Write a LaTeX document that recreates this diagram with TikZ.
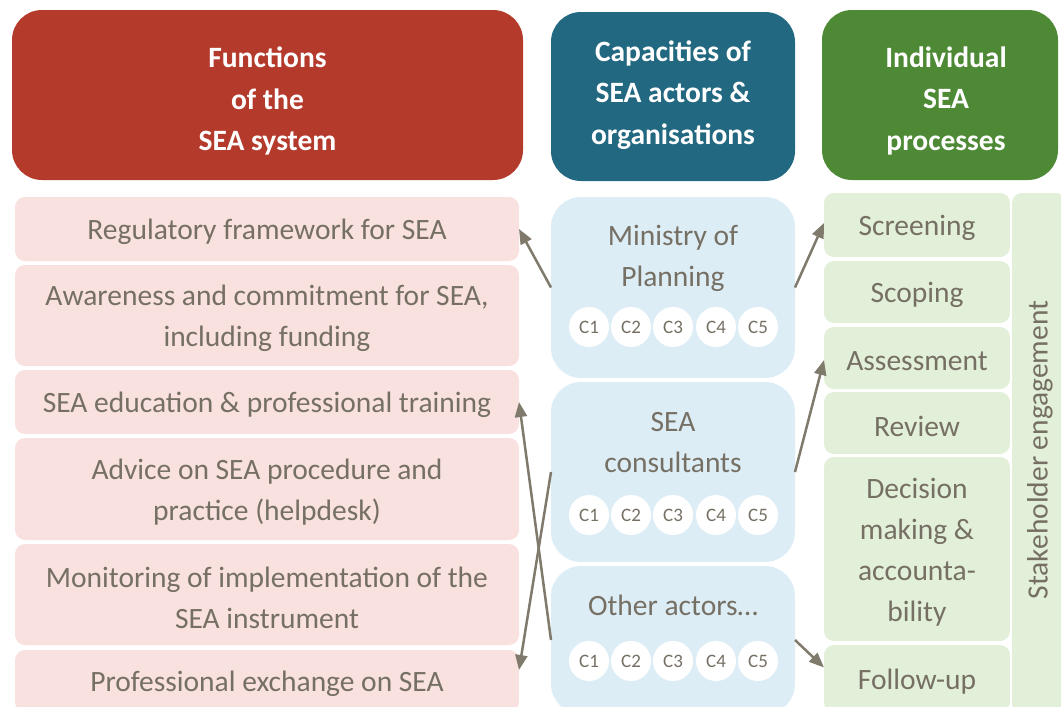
\documentclass[tikz,border=0pt]{standalone}
\usepackage{fontspec}
\setmainfont{Carlito}
\usetikzlibrary{arrows.meta,calc}
\definecolor{hred}{HTML}{B43A2C}
\definecolor{hblue}{HTML}{236881}
\definecolor{hgreen}{HTML}{4E8A35}
\definecolor{lpink}{HTML}{F8E1DF}
\definecolor{lblue}{HTML}{DDEDF6}
\definecolor{lgreen}{HTML}{E2EFD9}
\definecolor{txt}{HTML}{767064}
\definecolor{arr}{HTML}{7F7A6B}
\tikzset{
  header/.style={rounded corners=30pt, inner sep=0pt, outer sep=0pt, text=white, align=center,
    font=\fontsize{29.5}{41.5}\selectfont\bfseries},
  btext/.style={text=txt, align=center, font=\fontsize{29.5}{41}\selectfont, yshift=-3pt, inner sep=0pt},
  fbox/.style={fill=lpink, rounded corners=10pt, inner sep=0pt, outer sep=0pt, minimum width=504pt},
  abox/.style={fill=lblue, rounded corners=30pt, inner sep=0pt, outer sep=0pt, minimum width=244pt},
  pbox/.style={fill=lgreen, rounded corners=10pt, inner sep=0pt, outer sep=0pt, minimum width=186pt},
  atext/.style={text=txt, align=center, font=\fontsize{29.5}{41}\selectfont},
  capcircle/.style={circle, fill=white, minimum size=40pt, inner sep=0pt, text=txt, font=\fontsize{19}{19}\selectfont},
  conn/.style={draw=arr, line width=2.5pt, -{Triangle[length=15pt,width=12pt]}}
}
\begin{document}
\begin{tikzpicture}[x=1pt,y=-1pt]
\useasboundingbox (0,0) rectangle (1061,707);
\clip (0,0) rectangle (1061,707);
% headers
\node[header, fill=hred, minimum width=511pt, minimum height=170pt] (h1) at (267.5,95) {};
\node[header] (h1t) at (267.5,101) {Functions\\of the\\SEA system};
\node[header, fill=hblue, minimum width=244pt, minimum height=169pt] (h2) at (673,96.5) {};
\node[header] (h2t) at (673,95) {Capacities of\\SEA actors \&\\organisations};
\node[header, fill=hgreen, minimum width=236pt, minimum height=170pt] (h3) at (940,95) {};
\node[header] (h3t) at (946,100.5) {Individual\\SEA\\processes};
% functions
\node[fbox, minimum height=64pt, label={[btext]center:{Regulatory framework for SEA}}] (reg) at (267,229) {};
\node[fbox, minimum height=101pt, label={[btext]center:{Awareness and commitment for SEA,\\including funding}}] (awa) at (267,315.5) {};
\node[fbox, minimum height=64pt, label={[btext]center:{SEA education \& professional training}}] (edu) at (267,402) {};
\node[fbox, minimum height=102pt, label={[btext]center:{Advice on SEA procedure and\\practice (helpdesk)}}] (adv) at (267,489) {};
\node[fbox, minimum height=101pt, label={[btext]center:{Monitoring of implementation of the\\SEA instrument}}] (mon) at (267,594.5) {};
\node[fbox, minimum height=62pt, label={[btext]center:{Professional exchange on SEA}}] (pro) at (267,681) {};
% actors
\node[abox, minimum height=181pt] (min) at (673,287.5) {};
\node[abox, minimum height=180pt] (con) at (673,472) {};
\node[abox, minimum height=148pt] (oth) at (673,640) {};
\node[atext] (mint) at (673,258.5) {Ministry of\\Planning};
\node[atext] (cont) at (673,442.5) {SEA\\consultants};
\node[atext] (otht) at (673,605) {Other actors…};
\foreach \r/\y in {a/327,b/515,c/661}{
  \foreach \i/\x in {1/589,2/631,3/673,4/716,5/758}{
    \node[capcircle] (c\r\i) at (\x,\y) {C\i};
  }
}
% processes
\node[pbox, minimum height=64pt, label={[btext]center:{Screening}}] (scr) at (917,225) {};
\node[pbox, minimum height=62pt, label={[btext]center:{Scoping}}] (sco) at (917,292) {};
\node[pbox, minimum height=62pt, label={[btext]center:{Assessment}}] (ass) at (917,358) {};
\node[pbox, minimum height=62pt, label={[btext]center:{Review}}] (rev) at (917,423) {};
\node[pbox, minimum height=184pt, label={[btext]center:{Decision\\making \&\\accounta-\\bility}}] (dec) at (917,549) {};
\node[pbox, minimum height=67pt, label={[btext]center:{Follow-up}}] (fol) at (917,678.5) {};
\node[pbox, minimum width=54pt, minimum height=521pt] (stk) at (1039,453.5) {};
\node[atext, rotate=90] (stkt) at (1040,450) {Stakeholder engagement};
% connectors
\draw[conn] (min.west) -- (reg.east);
\draw[conn] (con.west) -- ([yshift=11pt]pro.east);
\draw[conn] (oth.west) -- (edu.east);
\draw[conn] (min.east) -- ([yshift=2pt]scr.west);
\draw[conn] (con.east) -- ([yshift=-2pt]ass.west);
\draw[conn] (oth.east) -- ([yshift=11pt]fol.west);
\end{tikzpicture}
\end{document}
